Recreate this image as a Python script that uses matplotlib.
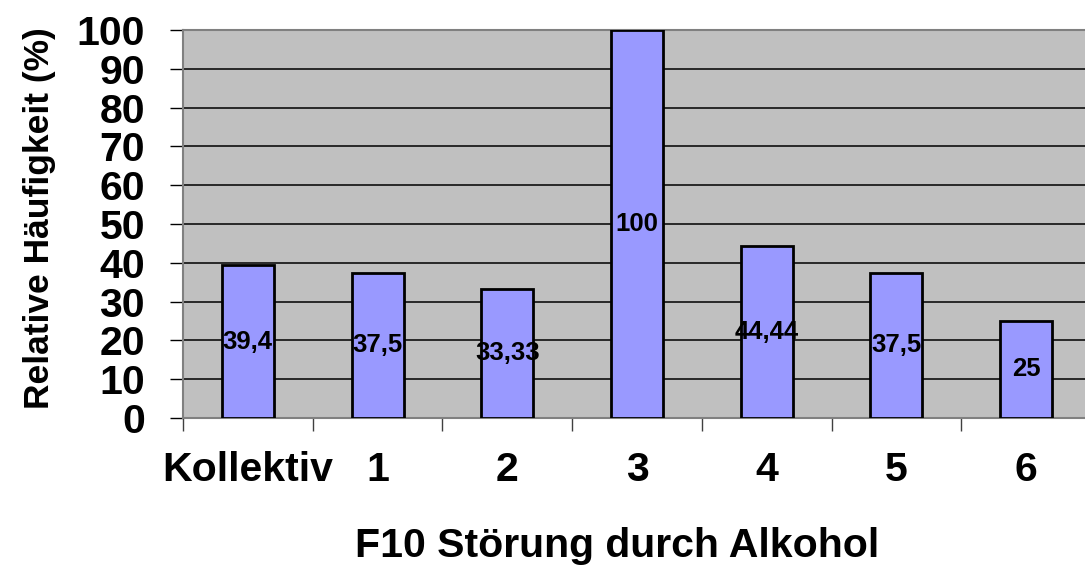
import matplotlib
matplotlib.use("Agg")
import matplotlib.pyplot as plt
import numpy as np

categories = ["Kollektiv", "1", "2", "3", "4", "5", "6"]
values = [39.4, 37.5, 33.33, 100, 44.44, 37.5, 25]
value_labels = ["39,4", "37,5", "33,33", "100", "44,44", "37,5", "25"]
yticks = [0, 10, 20, 30, 40, 50, 60, 70, 80, 90, 100]

plt.rcParams['font.family'] = ['Liberation Sans', 'DejaVu Sans']

W, H = 1085, 573
fig = plt.figure(figsize=(W / 100, H / 100), dpi=100)
ax = fig.add_axes([183 / W, (H - 418) / H, (1091 - 183) / W, (418 - 30) / H])
ax.set_facecolor('#C0C0C0')

x = np.arange(len(categories))
ax.bar(x, values, width=0.4, color='#9999FF', edgecolor='black', linewidth=2, zorder=3)

for xi, v, lab in zip(x, values, value_labels):
    ax.text(xi, v / 2, lab, ha='center', va='center', fontsize=18.5, fontweight='bold',
            color='black', zorder=4)

ax.set_xlim(-0.5, len(categories) - 0.5)
ax.set_ylim(0, 100)

ax.set_yticks(yticks)
ax.set_yticklabels([str(t) for t in yticks], fontsize=29.5, fontweight='bold')
ax.tick_params(axis='y', length=9.5, width=1, color='black', pad=18, direction='out')

ax.set_xticks(x)
ax.set_xticklabels(categories, fontsize=29.5, fontweight='bold')
ax.tick_params(axis='x', which='major', length=0, pad=24)
ax.set_xticks(np.arange(-0.5, len(categories) + 0.5, 1), minor=True)
ax.tick_params(axis='x', which='minor', length=9, width=1, color='#404040', direction='out')

ax.yaxis.grid(True, color='black', linewidth=1.1, zorder=1)
ax.set_axisbelow(True)
for s in ax.spines.values():
    s.set_color('#808080')
    s.set_linewidth(1.5)
ax.spines['right'].set_visible(False)

fig.text(617 / W, 1 - 546 / H, "F10 Störung durch Alkohol", ha='center', va='center',
         fontsize=29.5, fontweight='bold')
fig.text(40 / W, 1 - 218 / H, "Relative Häufigkeit (%)", ha='center', va='center',
         rotation=90, fontsize=25.5, fontweight='bold')

fig.savefig("out.png", dpi=100)
